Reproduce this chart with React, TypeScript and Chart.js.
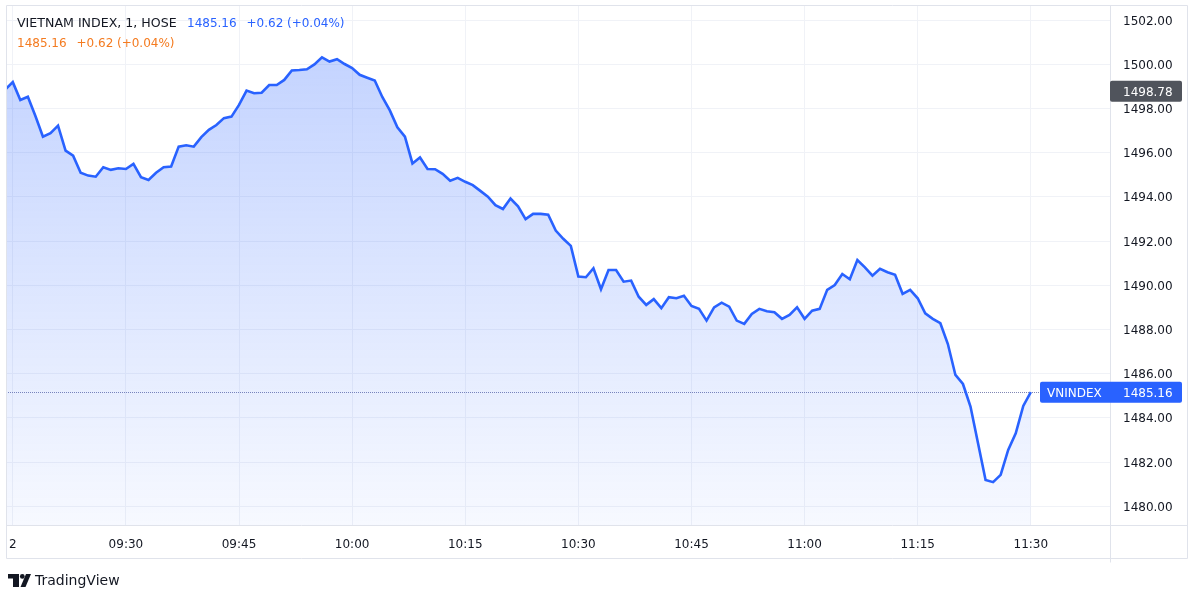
import React, { useEffect, useRef } from "react";
import { Chart, registerables } from "chart.js";

Chart.register(...registerables);

// ---- data ----
const START_MINUTE = 554; // 09:14, one-minute bars
const VALUES: number[] = [
  1498.85, 1499.19, 1498.38, 1498.53, 1497.66, 1496.72, 1496.88, 1497.22, 1496.09, 1495.86,
  1495.09, 1494.96, 1494.91, 1495.34, 1495.22, 1495.29, 1495.26, 1495.49, 1494.89, 1494.76,
  1495.09, 1495.34, 1495.37, 1496.27, 1496.33, 1496.27, 1496.70, 1497.03, 1497.25, 1497.56,
  1497.63, 1498.16, 1498.81, 1498.69, 1498.71, 1499.06, 1499.06, 1499.29, 1499.72, 1499.74,
  1499.77, 1499.99, 1500.31, 1500.12, 1500.23, 1500.01, 1499.83, 1499.52, 1499.39, 1499.26,
  1498.52, 1497.91, 1497.15, 1496.72, 1495.51, 1495.78, 1495.26, 1495.25, 1495.04, 1494.73,
  1494.86, 1494.68, 1494.53, 1494.27, 1494.01, 1493.62, 1493.45, 1493.92, 1493.57, 1492.99,
  1493.23, 1493.23, 1493.19, 1492.47, 1492.10, 1491.78, 1490.39, 1490.36, 1490.77, 1489.82,
  1490.69, 1490.69, 1490.16, 1490.21, 1489.48, 1489.11, 1489.37, 1488.96, 1489.46, 1489.41,
  1489.52, 1489.06, 1488.93, 1488.40, 1489.00, 1489.21, 1489.03, 1488.40, 1488.25, 1488.70,
  1488.93, 1488.82, 1488.78, 1488.48, 1488.66, 1489.00, 1488.48, 1488.85, 1488.93, 1489.79,
  1490.01, 1490.51, 1490.27, 1491.14, 1490.81, 1490.43, 1490.74, 1490.59, 1490.47, 1489.61,
  1489.79, 1489.41, 1488.73, 1488.48, 1488.28, 1487.34, 1485.94, 1485.53, 1484.51, 1482.85,
  1481.19, 1481.09, 1481.42, 1482.55, 1483.30, 1484.54, 1485.16,
];
const MINUTES: number[] = VALUES.map((_, i) => START_MINUTE + i);

const X_TICKS: number[] = [555, 570, 585, 600, 615, 630, 645, 660, 675, 690];
const X_TICK_LABELS: string[] = ["2", "09:30", "09:45", "10:00", "10:15", "10:30", "10:45", "11:00", "11:15", "11:30"];
const Y_TICKS: number[] = [1480, 1482, 1484, 1486, 1488, 1490, 1492, 1494, 1496, 1498, 1500, 1502];

const X_MIN = 554.1;
const X_MAX = 700.5;
const Y_MIN = 1479.15;
const Y_MAX = 1502.68;

const TITLE = "VIETNAM INDEX, 1, HOSE";
const LAST_VALUE = 1485.16;
const CHANGE = "+0.62";
const CHANGE_PCT = "(+0.04%)";
const REF_VALUE = 1498.78;
const SYMBOL = "VNINDEX";

// ---- style ----
const FONT = "'DejaVu Sans', sans-serif";
const TEXT = "#131722";
const BLUE = "#2962ff";
const ORANGE = "#f47b20";
const GRID = "#f0f2f7";
const BORDER = "#e0e3eb";

function roundRect(ctx: CanvasRenderingContext2D, x: number, y: number, w: number, h: number, r: number) {
  ctx.beginPath();
  ctx.moveTo(x + r, y);
  ctx.lineTo(x + w - r, y);
  ctx.quadraticCurveTo(x + w, y, x + w, y + r);
  ctx.lineTo(x + w, y + h - r);
  ctx.quadraticCurveTo(x + w, y + h, x + w - r, y + h);
  ctx.lineTo(x + r, y + h);
  ctx.quadraticCurveTo(x, y + h, x, y + h - r);
  ctx.lineTo(x, y + r);
  ctx.quadraticCurveTo(x, y, x + r, y);
  ctx.closePath();
}

const overlayPlugin = {
  id: "overlay",
  beforeDatasetsDraw(chart: any) {
    const { ctx, chartArea, scales } = chart;
    const y = Math.round(scales.y.getPixelForValue(LAST_VALUE)) + 0.5;
    ctx.save();
    ctx.strokeStyle = "#8087b5";
    ctx.lineWidth = 1;
    ctx.setLineDash([1, 1]);
    ctx.beginPath();
    ctx.moveTo(chartArea.left, y);
    ctx.lineTo(1040, y);
    ctx.stroke();
    ctx.restore();
  },
  afterDraw(chart: any) {
    const { ctx, chartArea, scales } = chart;
    ctx.save();
    // frame
    ctx.strokeStyle = BORDER;
    ctx.lineWidth = 1;
    ctx.setLineDash([]);
    const L = 6.5, T = 5.5, R = 1187.5, B = 558.5;
    ctx.beginPath();
    ctx.moveTo(L, T); ctx.lineTo(R, T);
    ctx.moveTo(L, T); ctx.lineTo(L, B);
    ctx.moveTo(R, T); ctx.lineTo(R, B);
    ctx.moveTo(L, B); ctx.lineTo(R, B);
    ctx.moveTo(L, chartArea.bottom + 0.5); ctx.lineTo(R, chartArea.bottom + 0.5);
    ctx.moveTo(chartArea.right + 0.5, T); ctx.lineTo(chartArea.right + 0.5, B + 4);
    ctx.stroke();

    // legend
    ctx.textBaseline = "middle";
    ctx.textAlign = "left";
    ctx.font = `12.6px ${FONT}`;
    ctx.fillStyle = TEXT;
    ctx.fillText(TITLE, 17, 23.5);
    ctx.font = `12px ${FONT}`;
    ctx.fillStyle = BLUE;
    ctx.fillText(LAST_VALUE.toFixed(2), 187, 23.5);
    ctx.fillText(CHANGE, 246.5, 23.5);
    ctx.fillText(CHANGE_PCT, 287, 23.5);
    ctx.fillStyle = ORANGE;
    ctx.fillText(LAST_VALUE.toFixed(2), 17, 44);
    ctx.fillText(CHANGE, 76.5, 44);
    ctx.fillText(CHANGE_PCT, 117, 44);

    // reference label (gray)
    const yRef = scales.y.getPixelForValue(REF_VALUE);
    ctx.fillStyle = "#50545c";
    roundRect(ctx, chartArea.right, yRef - 10.5, 72, 21, 2);
    ctx.fill();
    ctx.fillStyle = "#ffffff";
    ctx.fillText(REF_VALUE.toFixed(2), 1123, yRef + 1.5);

    // last value label (blue)
    const yLast = scales.y.getPixelForValue(LAST_VALUE);
    ctx.fillStyle = BLUE;
    roundRect(ctx, 1040, yLast - 10.5, 142, 21, 2);
    ctx.fill();
    ctx.fillStyle = "#ffffff";
    ctx.fillText(SYMBOL, 1047, yLast + 1.5);
    ctx.fillText(LAST_VALUE.toFixed(2), 1123, yLast + 1.5);

    // TradingView logo
    ctx.fillStyle = TEXT;
    ctx.fillRect(8, 574, 11, 4.5);
    ctx.fillRect(13, 574, 6, 13);
    ctx.beginPath();
    ctx.arc(22.3, 576.4, 2.4, 0, Math.PI * 2);
    ctx.fill();
    ctx.beginPath();
    ctx.moveTo(26, 574);
    ctx.lineTo(31, 574);
    ctx.lineTo(25.5, 587);
    ctx.lineTo(20.5, 587);
    ctx.closePath();
    ctx.fill();
    ctx.font = `14px ${FONT}`;
    ctx.fillText("TradingView", 35, 581);
    ctx.restore();
  },
};

export default function App() {
  const ref = useRef<HTMLCanvasElement | null>(null);

  useEffect(() => {
    if (!ref.current) return;
    const chart = new Chart(ref.current, {
      type: "line",
      data: {
        datasets: [
          {
            data: MINUTES.map((m, i) => ({ x: m, y: VALUES[i] })),
            borderColor: BLUE,
            borderWidth: 2.6,
            pointRadius: 0,
            tension: 0,
            fill: "start",
            backgroundColor: (c: any) => {
              const ch = c.chart;
              const ca = ch.chartArea;
              if (!ca) return "rgba(41,98,255,0.2)";
              const g = ch.ctx.createLinearGradient(0, ca.top, 0, ca.bottom);
              g.addColorStop(0, "rgba(41,98,255,0.30)");
              g.addColorStop(1, "rgba(41,98,255,0.04)");
              return g;
            },
          },
        ],
      },
      options: {
        animation: false,
        responsive: false,
        maintainAspectRatio: false,
        devicePixelRatio: 1,
        layout: { padding: { left: 6, top: 5, right: 13, bottom: 44 } },
        plugins: { legend: { display: false }, tooltip: { enabled: false } },
        scales: {
          x: {
            type: "linear",
            min: X_MIN,
            max: X_MAX,
            afterBuildTicks: (s: any) => {
              s.ticks = X_TICKS.map((v) => ({ value: v }));
            },
            afterFit: (s: any) => {
              s.height = 33;
              s.paddingLeft = 0;
              s.paddingRight = 0;
              s.paddingTop = 0;
              s.paddingBottom = 0;
            },
            grid: { color: GRID, drawTicks: false },
            border: { display: false },
            ticks: {
              padding: 13,
              maxRotation: 0,
              autoSkip: false,
              color: TEXT,
              font: { family: FONT, size: 12 },
              callback: (v: any) => {
                const i = X_TICKS.indexOf(Number(v));
                return i >= 0 ? X_TICK_LABELS[i] : "";
              },
            },
          },
          y: {
            position: "right",
            min: Y_MIN,
            max: Y_MAX,
            afterBuildTicks: (s: any) => {
              s.ticks = Y_TICKS.map((v) => ({ value: v }));
            },
            afterFit: (s: any) => {
              s.width = 77;
              s.paddingLeft = 0;
              s.paddingRight = 0;
              s.paddingTop = 0;
              s.paddingBottom = 0;
            },
            grid: { color: GRID, drawTicks: false },
            border: { display: false },
            ticks: {
              padding: 13,
              labelOffset: 1.5,
              color: TEXT,
              font: { family: FONT, size: 12 },
              callback: (v: any) => Number(v).toFixed(2),
            },
          },
        },
      },
      plugins: [overlayPlugin],
    } as any);
    return () => chart.destroy();
  }, []);

  return (
    <canvas
      ref={ref}
      width={1200}
      height={602}
      style={{ position: "fixed", left: 0, top: 0, width: 1200, height: 602, background: "#ffffff" }}
    />
  );
}
